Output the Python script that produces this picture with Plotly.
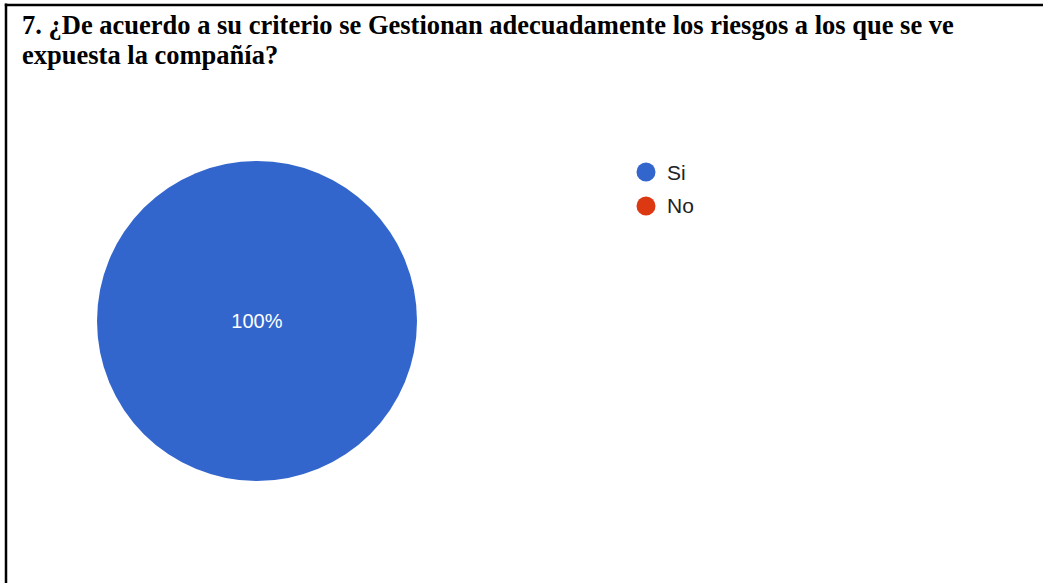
import plotly.graph_objects as go

W, H = 1043, 583

labels = ["Si", "No"]
values = [100, 0]
colors = ["#3366cc", "#dc3912"]
title_lines = [
    "7. ¿De acuerdo a su criterio se Gestionan adecuadamente los riesgos a los que se ve",
    "expuesta la compañía?",
]

fig = go.Figure()

# pie domain in pixels -> paper
px0, px1 = 97, 417
py0, py1 = 161, 481
fig.add_trace(go.Pie(
    labels=labels, values=values,
    marker=dict(colors=colors, line=dict(color="white", width=0)),
    sort=False, direction="clockwise", rotation=0,
    textinfo="percent", texttemplate="%{percent:.0%}",
    textposition="inside", insidetextorientation="horizontal",
    textfont=dict(family="Liberation Sans, Arial", size=20, color="white"),
    showlegend=False, hoverinfo="label+percent",
    domain=dict(x=[px0 / W, px1 / W], y=[1 - py1 / H, 1 - py0 / H]),
))

shapes = [
    dict(type="line", xref="paper", yref="paper",
         x0=6 / W, x1=6 / W, y0=0, y1=1 - 3.5 / H,
         line=dict(color="black", width=2.5)),
    dict(type="line", xref="paper", yref="paper",
         x0=4.8 / W, x1=1, y0=1 - 5 / H, y1=1 - 5 / H,
         line=dict(color="black", width=2.5)),
]
annotations = []

# title lines (tight line spacing as in the document)
for i, line in enumerate(title_lines):
    yc = 25 + 29.5 * i
    annotations.append(dict(
        text="<b>" + line + "</b>",
        xref="paper", yref="paper", x=20 / W, y=1 - yc / H,
        xanchor="left", yanchor="middle", align="left", showarrow=False,
        font=dict(family="Liberation Serif, Times New Roman", size=26.5, color="black"),
    ))

# custom legend with round markers
lx, ly0, dy, r = 646, 172, 34, 9.5
for i, (lab, col) in enumerate(zip(labels, colors)):
    cy = ly0 + dy * i
    shapes.append(dict(
        type="circle", xref="paper", yref="paper",
        x0=(lx - r) / W, x1=(lx + r) / W,
        y0=1 - (cy + r) / H, y1=1 - (cy - r) / H,
        fillcolor=col, line=dict(width=0),
    ))
    annotations.append(dict(
        text=lab, xref="paper", yref="paper",
        x=(lx + r + 9) / W, y=1 - cy / H,
        xanchor="left", yanchor="middle", showarrow=False,
        font=dict(family="Liberation Sans, Arial", size=21, color="#222222"),
    ))

fig.update_layout(
    width=W, height=H,
    margin=dict(l=0, r=0, t=0, b=0),
    paper_bgcolor="white", plot_bgcolor="white",
    showlegend=False,
    annotations=annotations,
    shapes=shapes,
)

fig.write_html("out.html")
